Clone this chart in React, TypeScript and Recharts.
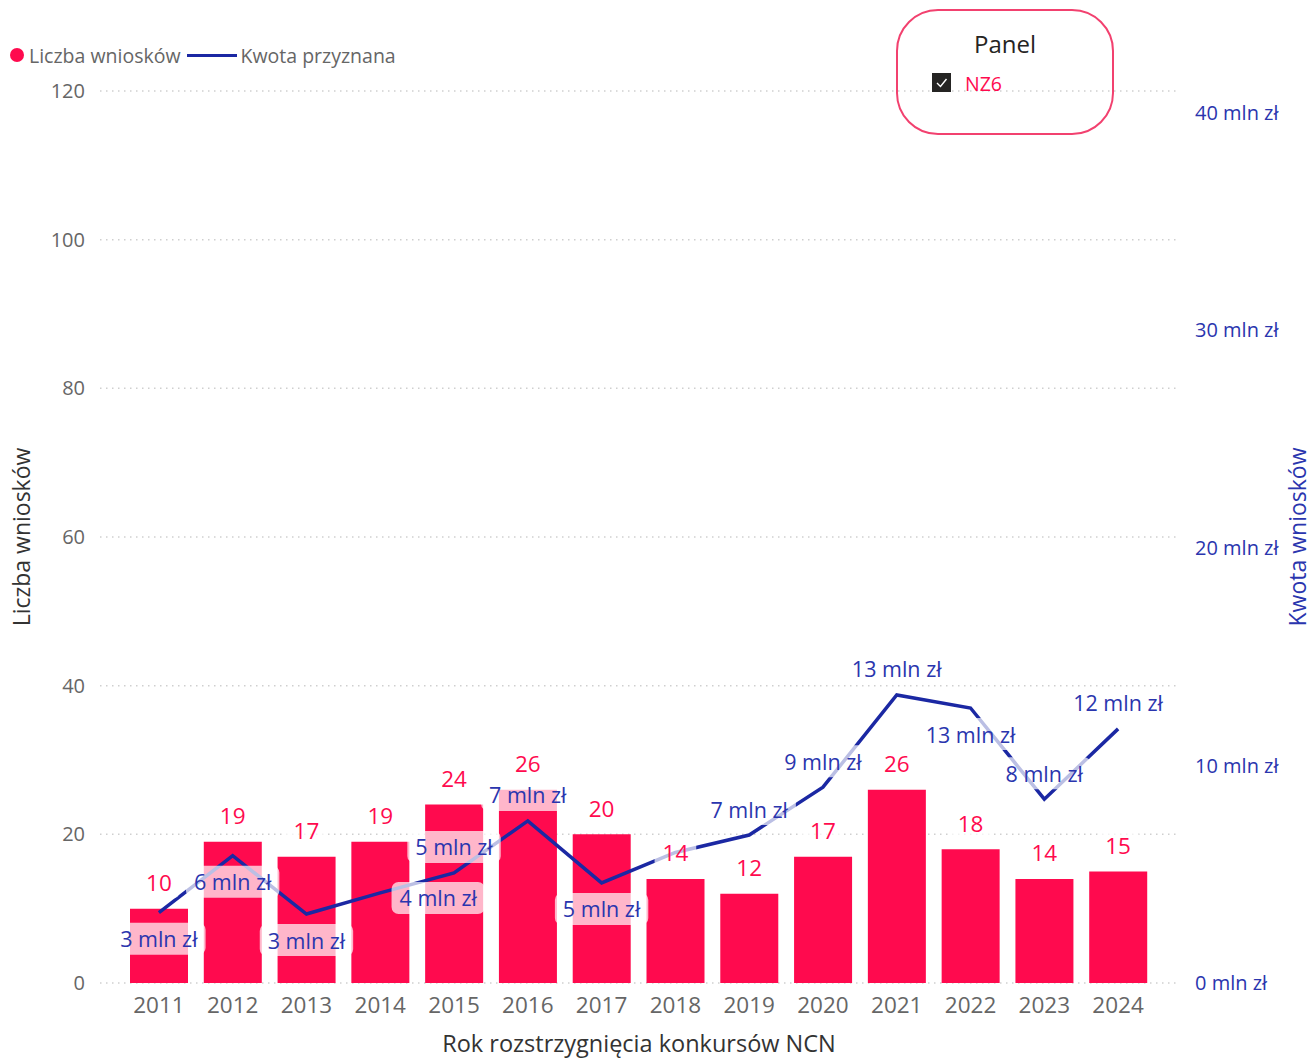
import { Bar, CartesianGrid, ComposedChart, LabelList, Line, XAxis, YAxis } from "recharts";

const YEARS = ["2011", "2012", "2013", "2014", "2015", "2016", "2017", "2018", "2019", "2020", "2021", "2022", "2023", "2024"];
const COUNTS = [10, 19, 17, 19, 24, 26, 20, 14, 12, 17, 26, 18, 14, 15];
// kwota przyznana, mln zł
const AMOUNTS = [3.23, 5.85, 3.17, 4.14, 5.06, 7.45, 4.6, 6.0, 6.8, 9.0, 13.24, 12.64, 8.45, 11.68];
const LEFT_TICKS = [0, 20, 40, 60, 80, 100, 120];
const RIGHT_TICKS = [0, 10, 20, 30, 40];
// where Power BI put each amount label (null = hidden)
const AMOUNT_LABEL_SIDE = ["below", "below", "below", "right", "above", "above", "below", null, "above", "above", "above", "below", "above", "above"];

const data = YEARS.map((year, i) => ({ year, count: COUNTS[i], amount: AMOUNTS[i] }));

const FONT = "'Segoe UI', 'Open Sans', sans-serif";
const RED = "#FF0A4E";
const NAVY = "#1B28A3";
const BLUE_TEXT = "#2A35AE";
const GREY = "#666666";

function textWidth(text: string, fs: number) {
  let w = 0;
  for (const ch of text) {
    if (/[0-9]/.test(ch)) w += 0.57;
    else if (ch === " ") w += 0.26;
    else if (ch === "m") w += 0.87;
    else if (ch === "l" || ch === "ł") w += 0.27;
    else w += 0.55;
  }
  return w * fs;
}

function BoxLabel({ cx, cy, text, color, fs }: { cx: number; cy: number; text: string; color: string; fs: number }) {
  const w = textWidth(text, fs) + 16;
  const h = 32;
  return (
    <g>
      <rect x={cx - w / 2} y={cy - h / 2} width={w} height={h} rx={7} fill="#ffffff" fillOpacity={0.7} />
      <text x={cx} y={cy} textAnchor="middle" dominantBaseline="central" fill={color} fontSize={fs} fontFamily={FONT}>
        {text}
      </text>
    </g>
  );
}

function CountLabel(props: any) {
  const { x, y, value } = props;
  if (x == null || y == null) return null;
  return <BoxLabel cx={x} cy={y - 26} text={String(value)} color={RED} fs={22.5} />;
}

function AmountLabel(props: any) {
  const { x, y, value, index } = props;
  const side = AMOUNT_LABEL_SIDE[index];
  if (x == null || y == null || !side) return null;
  let cx = x;
  let cy = y;
  if (side === "above") cy = y - 26;
  else if (side === "below") cy = y + 26;
  else if (side === "right") {
    cx = x + 58;
    cy = y + 5;
  }
  return <BoxLabel cx={cx} cy={cy} text={`${Math.round(value)} mln zł`} color={BLUE_TEXT} fs={21.5} />;
}

function Legend() {
  return (
    <div style={{ position: "absolute", left: 0, top: 42, height: 26, display: "flex", alignItems: "center", fontFamily: FONT, fontSize: 19.5, color: GREY, whiteSpace: "nowrap" }}>
      <span style={{ display: "inline-block", width: 14, height: 14, borderRadius: 7, background: RED, marginLeft: 10, marginRight: 5 }} />
      <span>Liczba wniosków</span>
      <span style={{ display: "inline-block", width: 50, height: 3, background: NAVY, marginLeft: 6, marginRight: 4 }} />
      <span>Kwota przyznana</span>
    </div>
  );
}

function PanelSlicer() {
  return (
    <div
      style={{
        position: "absolute",
        left: 896,
        top: 9,
        width: 218,
        height: 126,
        boxSizing: "border-box",
        border: "2px solid #F2416F",
        borderRadius: 42,
        fontFamily: FONT,
      }}
    >
      <div style={{ position: "absolute", left: 0, right: 0, top: 16, textAlign: "center", fontSize: 24, color: "#252423" }}>Panel</div>
      <div style={{ position: "absolute", left: 34, top: 62, width: 19, height: 19, background: "#252423" }}>
        <svg width={19} height={19}>
          <path d="M5 10 L8.5 13.5 L14.5 6" stroke="#fff" strokeWidth={1.4} fill="none" />
        </svg>
      </div>
      <div style={{ position: "absolute", left: 67, top: 59, fontSize: 19.5, color: RED }}>NZ6</div>
    </div>
  );
}

const titleStyle = {
  position: "absolute" as const,
  whiteSpace: "nowrap" as const,
  fontFamily: FONT,
  lineHeight: 1,
};

export default function App() {
  return (
    <div style={{ position: "absolute", left: 0, top: 0, width: 1312, height: 1059, background: "#fff", overflow: "hidden" }}>
      <ComposedChart width={1312} height={1059} data={data} margin={{ top: 91, right: 32, bottom: 36, left: 40 }}>
        <CartesianGrid yAxisId="left" vertical={false} stroke="#CFCFCF" strokeWidth={1.5} strokeDasharray="1.5 4.5" />
        <XAxis
          dataKey="year"
          height={40}
          padding={{ left: 22, right: 25 }}
          axisLine={false}
          tickLine={false}
          tickSize={0}
          tickMargin={14}
          tick={{ fill: GREY, fontSize: 22.5, fontFamily: FONT }}
          interval={0}
        />
        <YAxis
          yAxisId="left"
          orientation="left"
          width={60}
          domain={[0, 120]}
          ticks={LEFT_TICKS}
          axisLine={false}
          tickLine={false}
          tickSize={0}
          tickMargin={15}
          tick={{ fill: GREY, fontSize: 20, fontFamily: FONT }}
        />
        <YAxis
          yAxisId="right"
          orientation="right"
          width={100}
          domain={[0, 41]}
          ticks={RIGHT_TICKS}
          allowDataOverflow
          axisLine={false}
          tickLine={false}
          tickSize={0}
          tickMargin={15}
          tickFormatter={(v: number) => `${v} mln zł`}
          tick={{ fill: BLUE_TEXT, fontSize: 20, fontFamily: FONT }}
        />
        <Bar yAxisId="left" dataKey="count" fill={RED} barSize={58} isAnimationActive={false} />
        <Line
          yAxisId="right"
          type="linear"
          dataKey="amount"
          stroke={NAVY}
          strokeWidth={3.5}
          dot={false}
          activeDot={false}
          isAnimationActive={false}
        />
        <Line yAxisId="left" dataKey="count" stroke="none" dot={false} activeDot={false} isAnimationActive={false}>
          <LabelList dataKey="count" content={CountLabel} />
        </Line>
        <Line yAxisId="right" dataKey="amount" stroke="none" dot={false} activeDot={false} isAnimationActive={false}>
          <LabelList dataKey="amount" content={AmountLabel} />
        </Line>
      </ComposedChart>

      <Legend />
      <PanelSlicer />

      <div style={{ ...titleStyle, left: 21, top: 537, transform: "translate(-50%, -50%) rotate(-90deg)", fontSize: 23, color: "#333" }}>
        Liczba wniosków
      </div>
      <div style={{ ...titleStyle, left: 1297, top: 537, transform: "translate(-50%, -50%) rotate(-90deg)", fontSize: 23, color: BLUE_TEXT }}>
        Kwota wniosków
      </div>
      <div style={{ ...titleStyle, left: 639, top: 1044, transform: "translate(-50%, -50%)", fontSize: 23.5, color: "#333" }}>
        Rok rozstrzygnięcia konkursów NCN
      </div>
    </div>
  );
}
